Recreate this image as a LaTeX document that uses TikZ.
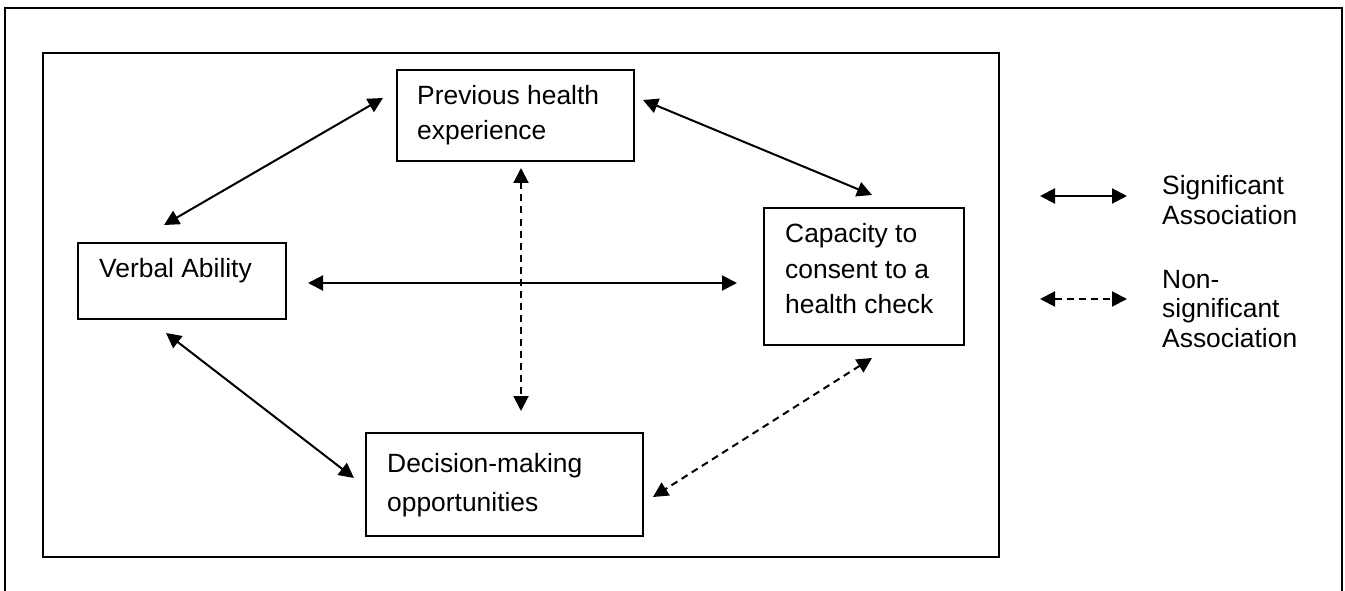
\documentclass[tikz,border=0pt]{standalone}
\usepackage{fontspec}
\setmainfont{Liberation Sans}
\usetikzlibrary{arrows.meta}
\begin{document}
\begin{tikzpicture}[x=1pt,y=-1pt,
  frame/.style={draw, line width=2.4pt},
  box/.style={draw, line width=2pt, rectangle, inner sep=0pt, anchor=north west},
  lbl/.style={anchor=base west, inner sep=0pt, font=\fontsize{26.4}{30}\selectfont},
  sig/.style={line width=2pt, {Triangle[length=15pt,width=15pt]}-{Triangle[length=15pt,width=15pt]}},
  nonsig/.style={sig, dash pattern=on 7pt off 5pt}]
\useasboundingbox (0,0) rectangle (1345,591);
\clip (0,0) rectangle (1345,591);
% frames
\draw[frame] (5,8) rectangle (1342,660);
\draw[frame] (43,53) rectangle (999,557);
% boxes
\node[box, minimum width=237pt, minimum height=91pt] (prev) at (396,69) {};
\node[box, minimum width=200pt, minimum height=137pt] (cap) at (763,207) {};
\node[box, minimum width=208pt, minimum height=76pt] (verb) at (77,242) {};
\node[box, minimum width=277pt, minimum height=103pt] (dec) at (365,432) {};
% texts
\node[lbl] (prev1) at (417,105) {Previous health};
\node[lbl] (prev2) at (417,140) {experience};
\node[lbl] (cap1) at (785,243) {Capacity to};
\node[lbl] (cap2) at (785,278) {consent to a};
\node[lbl] (cap3) at (785,313) {health check};
\node[lbl] (verb1) at (99,277) {Verbal Ability};
\node[lbl] (dec1) at (387,472) {Decision-making};
\node[lbl] (dec2) at (387,511) {opportunities};
% arrow end points
\coordinate (vp1) at (164,225); \coordinate (vp2) at (383,98);
\coordinate (pc1) at (643,100); \coordinate (pc2) at (872,195);
\coordinate (vc1) at (308,283); \coordinate (vc2) at (737,283);
\coordinate (pd1) at (521,168); \coordinate (pd2) at (521,411);
\coordinate (vd1) at (166,333); \coordinate (vd2) at (354,478);
\coordinate (cd1) at (872,358); \coordinate (cd2) at (653,497);
\draw[sig] (vp1) -- (vp2);
\draw[sig] (pc1) -- (pc2);
\draw[sig] (vc1) -- (vc2);
\draw[nonsig] (pd1) -- (pd2);
\draw[sig] (vd1) -- (vd2);
\draw[nonsig] (cd1) -- (cd2);
% legend
\coordinate (ls1) at (1040,196); \coordinate (ls2) at (1127,196);
\coordinate (ln1) at (1040,299); \coordinate (ln2) at (1127,299);
\draw[sig] (ls1) -- (ls2);
\draw[nonsig] (ln1) -- (ln2);
\node[lbl] (leg1) at (1162,195) {Significant};
\node[lbl] (leg2) at (1162,225) {Association};
\node[lbl] (leg3) at (1162,288) {Non-};
\node[lbl] (leg4) at (1162,317) {significant};
\node[lbl] (leg5) at (1162,347) {Association};
\end{tikzpicture}
\end{document}
